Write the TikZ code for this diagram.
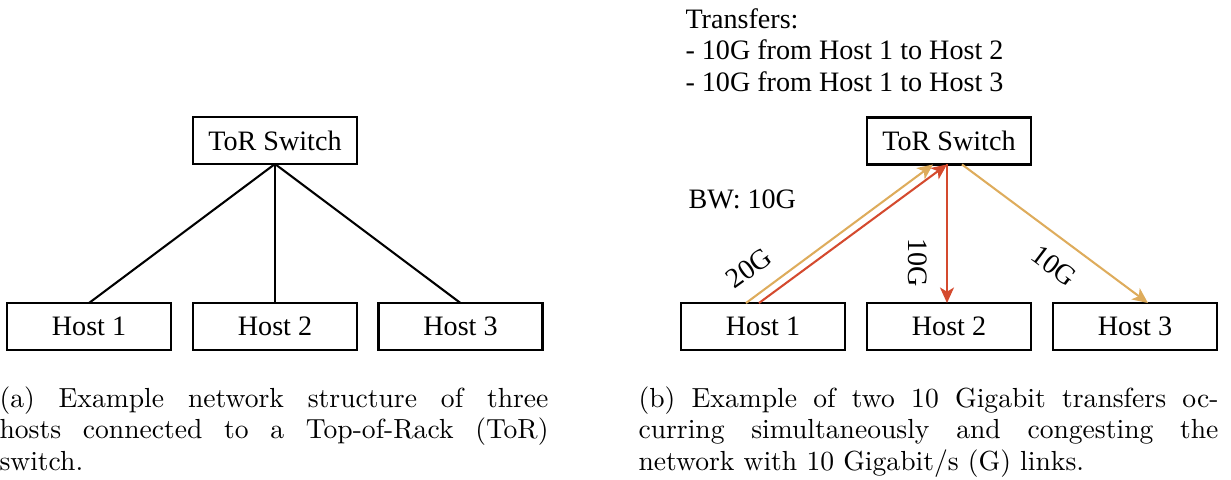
\documentclass[tikz,border=0pt]{standalone}
\usepackage{fontspec}
\newfontfamily\diagfont{Liberation Serif}
\usetikzlibrary{arrows.meta,calc}
\definecolor{flowA}{RGB}{222,172,92}
\definecolor{flowB}{RGB}{212,74,46}
\begin{document}
\begin{tikzpicture}[x=0.3876pt,y=-0.3876pt,
  box/.style={draw, line width=1pt, minimum width=63.6pt, minimum height=18.2pt,
    inner sep=0pt, outer sep=0pt, font=\diagfont\fontsize{10.9}{12.3}\selectfont},
  link/.style={line width=0.8pt},
  flow/.style={line width=0.8pt, -{Stealth[length=6pt,width=5.4pt,inset=1.6pt]}},
  lbl/.style={font=\diagfont\fontsize{10.9}{12.3}\selectfont, inner sep=0pt},
  capbox/.style={anchor=north west, inner sep=0pt, align=justify,
    font=\fontsize{10.7}{12.2}\selectfont}]
\useasboundingbox (0,0) rectangle (1231,479);

% (a) plain topology
\node[box] (torA) at (275,140.5) {ToR Switch};
\node[box] (hA1) at (89,326.5) {Host 1};
\node[box] (hA2) at (275,326.5) {Host 2};
\node[box] (hA3) at (460.5,326.5) {Host 3};
\draw[link] (torA.south) -- (hA1.north);
\draw[link] (torA.south) -- (hA2.north);
\draw[link] (torA.south) -- (hA3.north);

% (b) two concurrent transfers
\node[lbl, anchor=west, align=left] (xfer) at (685,50)
  {Transfers:\\- 10G from Host 1 to Host 2\\- 10G from Host 1 to Host 3};
\node[lbl, anchor=west] (bw) at (688,199) {BW: 10G};
\node[box] (torB) at (949,141) {ToR Switch};
\node[box] (hB1) at (763,326.5) {Host 1};
\node[box] (hB2) at (949,326.5) {Host 2};
\node[box] (hB3) at (1135,326.5) {Host 3};

\draw[flow, flowA] ($(hB1.north)+(-17,0)$) -- ($(torB.south)+(-16,0)$);
\draw[flow, flowB] ($(hB1.north)+(-4,0)$) -- ($(torB.south)+(-2,0)$);
\draw[flow, flowB] ($(torB.south)+(-2,0)$) -- ($(hB2.north)+(-2,0)$);
\draw[flow, flowA] ($(torB.south)+(13,0)$) -- ($(hB3.north)+(13,0)$);

\node[lbl, rotate=36] (r20) at (749,268) {20G};
\node[lbl, rotate=-90] (r10a) at (918,263) {10G};
\node[lbl, rotate=-37] (r10b) at (1054,266) {10G};

% captions
\node[capbox, text width=212.8pt] (capA) at (-1,386)
  {(a) Example network structure of three\linebreak hosts connected to a Top-of-Rack (ToR)\linebreak switch.};
\node[capbox, text width=224.8pt] (capB) at (638,386)
  {(b) Example of two 10 Gigabit transfers oc-\linebreak curring simultaneously and congesting the\linebreak network with 10 Gigabit/s (G) links.};
\end{tikzpicture}
\end{document}
